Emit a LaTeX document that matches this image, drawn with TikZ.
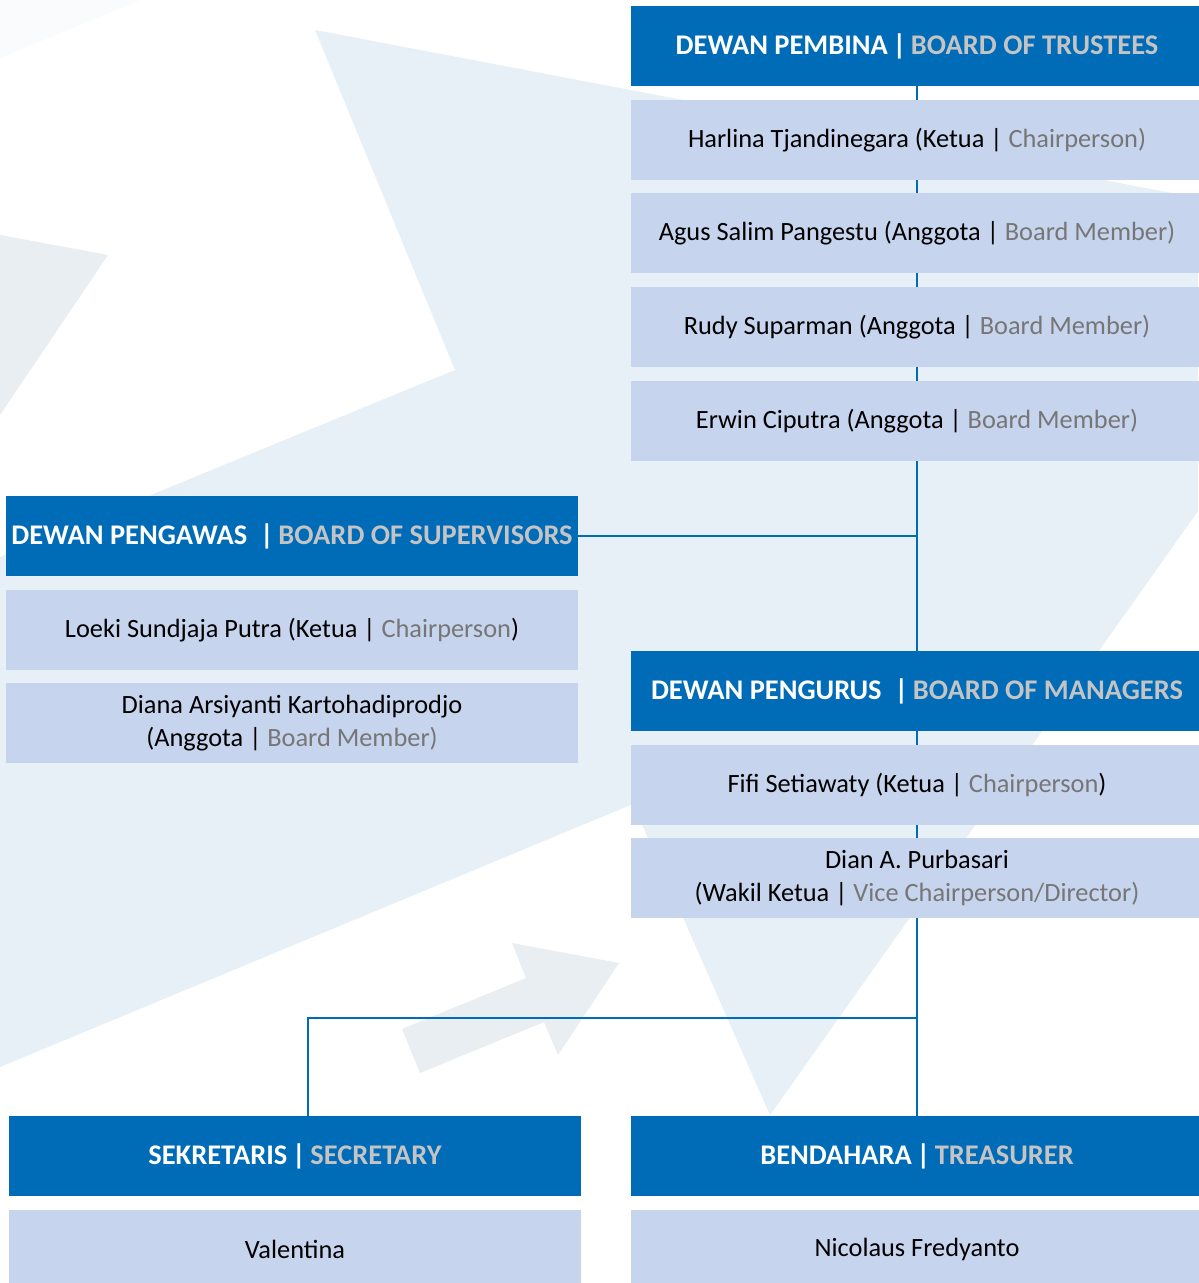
\documentclass[tikz,border=0pt]{standalone}
\usepackage{fontspec}
\setmainfont{Carlito}
\usetikzlibrary{positioning}

\definecolor{hdrblue}{HTML}{006BB6}
\definecolor{memfill}{HTML}{C7D4ED}
\definecolor{hdrgray}{HTML}{C4C4C4}
\definecolor{rolegray}{HTML}{767676}
\definecolor{bgshape}{HTML}{E7F0F6}
\definecolor{bgshapeb}{HTML}{E9EEF2}

\newcommand{\engtxt}[1]{\textcolor{hdrgray}{#1}}
\newcommand{\rolename}[1]{\textcolor{rolegray}{#1}}

\pgfdeclarelayer{back}
\pgfdeclarelayer{lines}
\pgfsetlayers{back,lines,main}

\begin{document}
\begin{tikzpicture}[
    x=0.02cm, y=-0.02cm,
    node distance=0.26cm,
    header/.style={rectangle, fill=hdrblue, text=white, minimum width=11.44cm, minimum height=1.6cm, inner sep=0pt, font=\fontsize{16.2}{19}\selectfont\bfseries},
    member/.style={rectangle, fill=memfill, text=black, minimum width=11.44cm, minimum height=1.6cm, inner sep=0pt, align=center, font=\fontsize{15}{18.8}\selectfont},
    link/.style={draw=hdrblue, line width=0.7pt}
]
\useasboundingbox (0,0) rectangle (1198,1283);

% board of trustees
\node[header] (pembina) at (917,46) {DEWAN PEMBINA\,|\,\engtxt{BOARD OF TRUSTEES}};
\node[member] (pembina1) [below=of pembina] {Harlina Tjandinegara (Ketua | \rolename{Chairperson)}};
\node[member] (pembina2) [below=of pembina1] {Agus Salim Pangestu (Anggota | \rolename{Board Member)}};
\node[member] (pembina3) [below=of pembina2] {Rudy Suparman (Anggota | \rolename{Board Member)}};
\node[member] (pembina4) [below=of pembina3] {Erwin Ciputra (Anggota | \rolename{Board Member)}};

% board of supervisors
\node[header] (pengawas) at (292,536) {DEWAN PENGAWAS\ \ |\,\engtxt{BOARD OF SUPERVISORS}};
\node[member] (pengawas1) [below=of pengawas] {Loeki Sundjaja Putra (Ketua | \rolename{Chairperson})};
\node[member] (pengawas2) [below=of pengawas1] {Diana Arsiyanti Kartohadiprodjo\\(Anggota | \rolename{Board Member)}};

% board of managers
\node[header] (pengurus) at (917,691) {DEWAN PENGURUS\ \ |\,\engtxt{BOARD OF MANAGERS}};
\node[member] (pengurus1) [below=of pengurus] {Fifi Setiawaty (Ketua | \rolename{Chairperson})};
\node[member] (pengurus2) [below=of pengurus1] {Dian A. Purbasari\\(Wakil Ketua | \rolename{Vice Chairperson/Director)}};

% secretary and treasurer
\node[header] (sekretaris) at (295,1156) {SEKRETARIS\,|\,\engtxt{SECRETARY}};
\node[member] (sekretaris1) [below=of sekretaris] {Valentina};
\node[header] (bendahara) at (917,1156) {BENDAHARA\,|\,\engtxt{TREASURER}};
\node[member] (bendahara1) [below=of bendahara] {Nicolaus Fredyanto};

\coordinate (fork) at (917,1018);

\begin{pgfonlayer}{lines}
\draw[link] (pembina.south) -- (bendahara.north);
\draw[link] (pengawas.east) -- (pengawas.east -| pembina.south);
\draw[link] (sekretaris.north) ++(13,0) |- (fork);
\end{pgfonlayer}

% background shapes
\begin{pgfonlayer}{back}
\fill[white] (0,0) rectangle (1198,1283);
\fill[bgshape] (315,30) -- (1198,198) -- (1198,511) -- (770,1115) -- (633,804) -- (0,1067) -- (0,557) -- (455,370) -- cycle;
\fill[bgshapeb] (0,235) -- (108,255) -- (0,415) -- cycle;
\fill[bgshapeb!25] (0,58) -- (140,0) -- (0,0) -- cycle;
\fill[bgshapeb] (512,943) -- (619,963) -- (558,1055) -- (544,1022) -- (420,1073) -- (402,1029) -- (526,978) -- cycle;
\end{pgfonlayer}

\end{tikzpicture}
\end{document}
